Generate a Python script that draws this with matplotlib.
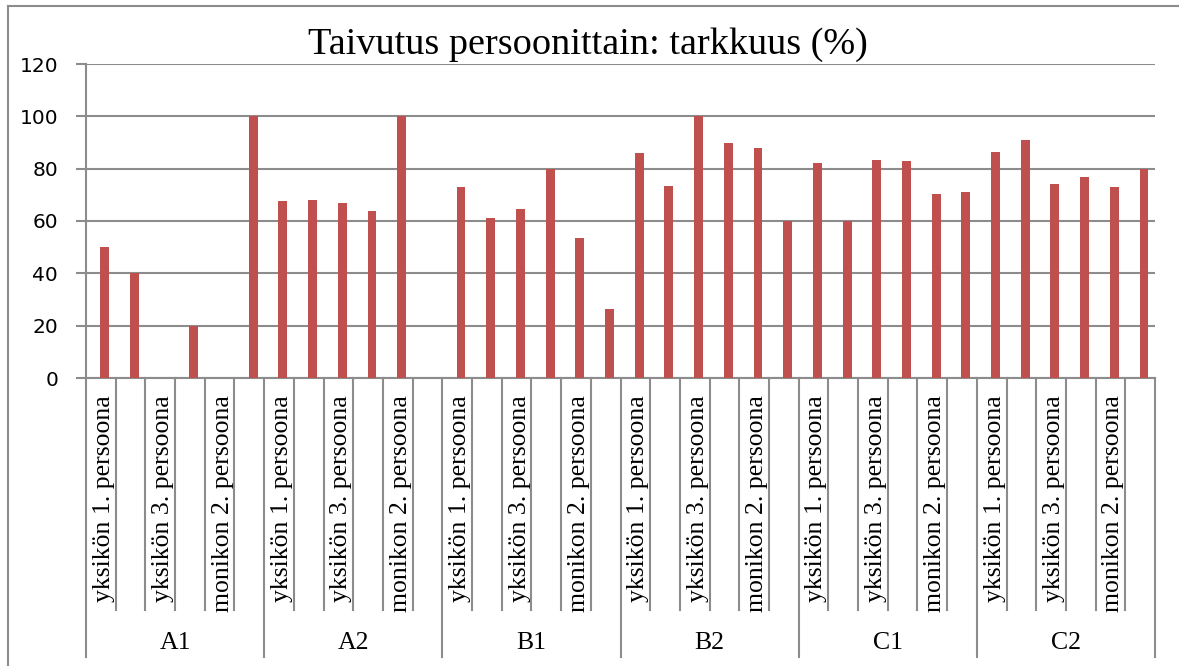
import numpy as np
import matplotlib
matplotlib.use('Agg')
import matplotlib.pyplot as plt
from matplotlib.lines import Line2D

# tasot ja persoonat
groups = ['A1', 'A2', 'B1', 'B2', 'C1', 'C2']
persons = ['yksikön 1. persoona', 'yksikön 2. persoona', 'yksikön 3. persoona',
           'monikon 1. persoona', 'monikon 2. persoona', 'monikon 3. persoona']

# tarkkuus (%) tasoittain
a1 = [50, 40, 0, 20, 0, 100]
a2 = [67.5, 68, 67, 64, 100, 0]
b1 = [73, 61, 64.5, 80, 53.5, 26.5]
b2 = [86, 73.5, 100, 90, 88, 60]
c1 = [82, 60, 83.5, 83, 70.5, 71]
c2 = [86.5, 91, 74, 77, 73, 80]

values = a1 + a2 + b1 + b2 + c1 + c2
n = len(values)
x = np.arange(n)

grid_col = '#8c8c8c'
bar_col = '#C0504D'
serif = 'Liberation Serif'

fig = plt.figure(figsize=(11.79, 6.66), dpi=100)
ax = fig.add_axes([86 / 1179, 1 - 378 / 666, (1155 - 86) / 1179, (378 - 64) / 666])

ax.bar(x + 0.13, values, width=0.3, color=bar_col, zorder=3)

ax.set_xlim(-0.5, n - 0.5)
ax.set_ylim(0, 120)
ax.set_yticks(np.arange(0, 121, 20))
ax.yaxis.grid(True, color=grid_col, linewidth=1.5)
ax.set_axisbelow(True)
ax.tick_params(axis='y', length=7, width=1.5, color=grid_col, pad=13, labelsize=14.5)
ax.set_xticks([])

for s in ['top', 'right']:
    ax.spines[s].set_visible(False)
for s in ['left', 'bottom']:
    ax.spines[s].set_color(grid_col)
    ax.spines[s].set_linewidth(1.5)

# kategoria-akselin erotinviivat
trans = ax.get_xaxis_transform()
for k in range(n + 1):
    y_end = -0.889 if k % 6 == 0 else -0.739
    ax.plot([k - 0.5, k - 0.5], [0, y_end], color=grid_col, lw=1.5,
            transform=trans, clip_on=False)

# joka toinen persoona näkyviin
for k in range(n):
    if k % 2 == 0:
        ax.text(k + 0.1, -0.054, persons[k % 6], rotation=90, ha='center', va='top',
                fontsize=18.5, family=serif, transform=trans)

for g, name in enumerate(groups):
    ax.text(g * 6 + 2.5, -0.844, name, ha='center', va='center', fontsize=18.5,
            family=serif, transform=trans)

# kehys
fig.add_artist(Line2D([8 / 1179, 1], [1 - 6 / 666, 1 - 6 / 666], color=grid_col, lw=1.5))
fig.add_artist(Line2D([8 / 1179, 8 / 1179], [0, 1 - 6 / 666], color=grid_col, lw=1.5))

fig.text(0.4987, 0.933, 'Taivutus persoonittain: tarkkuus (%)', ha='center', va='center',
         fontsize=27.5, family=serif)

fig.savefig('out.png', dpi=100)
